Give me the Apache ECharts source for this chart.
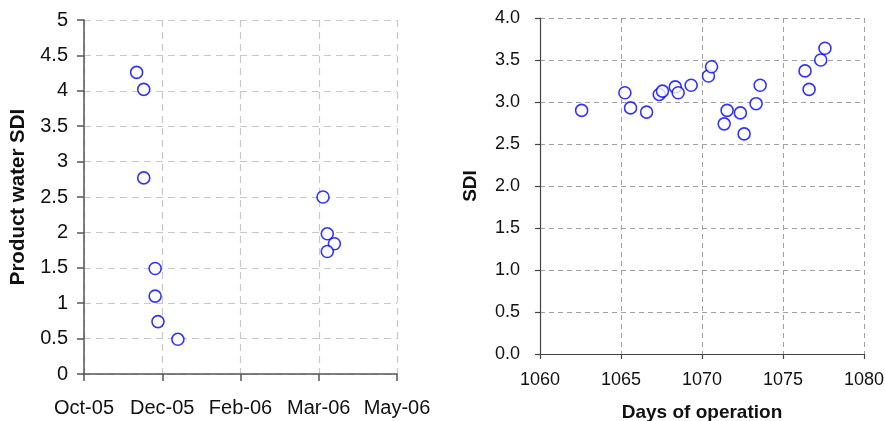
<!DOCTYPE html>
<html>
<head>
<meta charset="utf-8">
<script src="https://cdn.jsdelivr.net/npm/echarts@6/dist/echarts.min.js"></script>
<style>
  html, body { margin: 0; padding: 0; background: #fff; }
  #chart { width: 885px; height: 421px; }
</style>
</head>
<body>
<div id="chart"></div>
<script>
// left panel: product water SDI by sampling date
const sampleDates = ['2005-11-21', '2005-11-26', '2005-11-26', '2005-12-04', '2005-12-04',
  '2005-12-06', '2005-12-20', '2006-04-01', '2006-04-04', '2006-04-09', '2006-04-04']
const productSdi = [4.26, 4.02, 2.77, 1.49, 1.10, 0.74, 0.49, 2.50, 1.98, 1.84, 1.73]
const dateTickLabels = ['Oct-05', 'Dec-05', 'Feb-06', 'Mar-06', 'May-06']
const dateBase = '2005-10-15' // first tick of the date axis
const dateStep = 55 // days between date ticks

// right panel: SDI vs days of operation
const opDays = [1062.57, 1065.24, 1065.59, 1066.58, 1067.36, 1067.56, 1068.35, 1068.53, 1069.33,
  1070.40, 1070.59, 1071.37, 1071.55, 1072.37, 1072.60, 1073.34, 1073.59, 1076.36, 1076.61,
  1077.33, 1077.59]
const opSdi = [2.90, 3.11, 2.93, 2.88, 3.09, 3.13, 3.18, 3.11, 3.20, 3.31, 3.42, 2.74, 2.90,
  2.87, 2.62, 2.98, 3.20, 3.37, 3.15, 3.50, 3.64]

function dayOffset(s) {
  const p = s.split('-').map(Number)
  const b = dateBase.split('-').map(Number)
  return (Date.UTC(p[0], p[1] - 1, p[2]) - Date.UTC(b[0], b[1] - 1, b[2])) / 86400000
}

const font = 'Liberation Sans, Arial, sans-serif'
const marker = {
  symbol: 'circle',
  symbolSize: 12,
  itemStyle: { color: '#fff', borderColor: '#0000ff', borderWidth: 1.6 }
}

const chart = echarts.init(document.getElementById('chart'), null, { renderer: 'canvas' })
chart.setOption({
  animation: false,
  textStyle: { fontFamily: font },
  grid: [
    { left: 84, top: 20, right: 488, bottom: 47, outerBoundsMode: 'none', containLabel: false },
    { left: 540, top: 18, right: 21, bottom: 67, outerBoundsMode: 'none', containLabel: false }
  ],
  xAxis: [{
    gridIndex: 0,
    type: 'value',
    min: 0,
    max: dateStep * (dateTickLabels.length - 1),
    interval: dateStep,
    axisLine: { show: true, lineStyle: { color: '#555', width: 1.5 } },
    axisTick: { show: true, inside: false, length: 7, lineStyle: { color: '#555', width: 1.5 } },
    axisLabel: {
      margin: 24, fontSize: 20, color: '#111', fontFamily: font,
      formatter: v => dateTickLabels[Math.round(v / dateStep)] || ''
    },
    splitLine: { show: true, lineStyle: { color: '#c8c8c8', type: [7, 5], width: 1.2 } }
  }, {
    gridIndex: 1,
    type: 'value',
    min: 1060,
    max: 1080,
    interval: 5,
    name: 'Days of operation',
    nameLocation: 'middle',
    nameGap: 49,
    nameTextStyle: { fontSize: 19, fontWeight: 'bold', color: '#111', fontFamily: font },
    axisLine: { show: true, lineStyle: { color: '#444', width: 1.2 } },
    axisTick: { show: true, length: 5, lineStyle: { color: '#444', width: 1.2 } },
    axisLabel: { margin: 17, fontSize: 18, color: '#111', fontFamily: font, formatter: v => String(v) },
    splitLine: { show: true, lineStyle: { color: '#a0a0a0', type: [5, 4], width: 1 } }
  }],
  yAxis: [{
    gridIndex: 0,
    type: 'value',
    min: 0,
    max: 5,
    interval: 0.5,
    name: 'Product water SDI',
    nameLocation: 'middle',
    nameGap: 55,
    nameTextStyle: { fontSize: 20.5, fontWeight: 'bold', color: '#111', fontFamily: font },
    axisLine: { show: true, lineStyle: { color: '#555', width: 1.5 } },
    axisTick: { show: true, length: 7, lineStyle: { color: '#555', width: 1.5 } },
    axisLabel: { margin: 16, fontSize: 20, color: '#111', fontFamily: font },
    splitLine: { show: true, lineStyle: { color: '#c8c8c8', type: [7, 5], width: 1.2 } }
  }, {
    gridIndex: 1,
    type: 'value',
    min: 0,
    max: 4,
    interval: 0.5,
    name: 'SDI',
    nameLocation: 'middle',
    nameGap: 60,
    nameTextStyle: { fontSize: 19, fontWeight: 'bold', color: '#111', fontFamily: font },
    axisLine: { show: true, lineStyle: { color: '#444', width: 1.2 } },
    axisTick: { show: true, length: 5, lineStyle: { color: '#444', width: 1.2 } },
    axisLabel: { margin: 20, fontSize: 18, color: '#111', fontFamily: font, formatter: v => v.toFixed(1) },
    splitLine: { show: true, lineStyle: { color: '#a0a0a0', type: [5, 4], width: 1 } }
  }],
  series: [{
    type: 'scatter',
    xAxisIndex: 0,
    yAxisIndex: 0,
    data: sampleDates.map((d, i) => [dayOffset(d), productSdi[i]]),
    ...marker
  }, {
    type: 'scatter',
    xAxisIndex: 1,
    yAxisIndex: 1,
    data: opDays.map((d, i) => [d, opSdi[i]]),
    ...marker
  }]
})
</script>
</body>
</html>
